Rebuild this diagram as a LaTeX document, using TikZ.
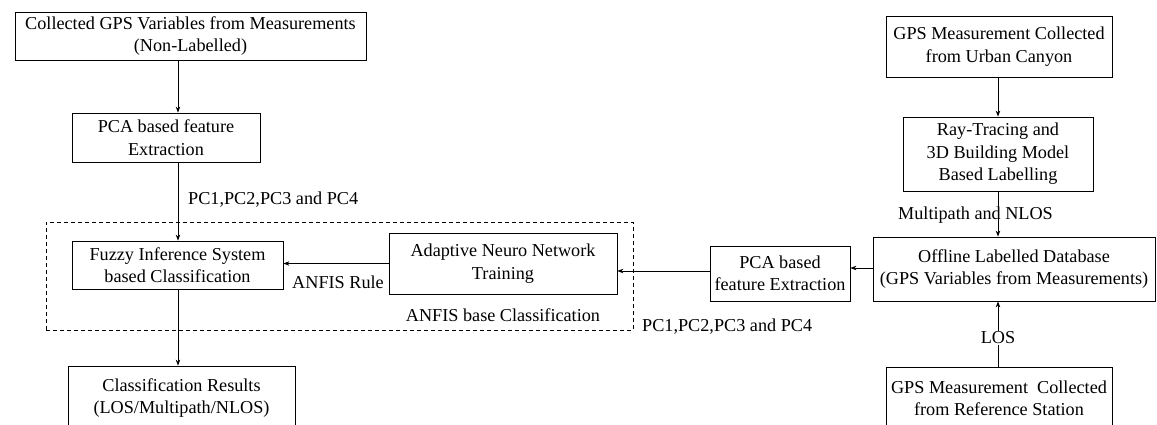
\documentclass[tikz,border=0pt]{standalone}
\usepackage{fontspec}
\setmainfont{Liberation Serif}
\usetikzlibrary{arrows.meta}
\newcommand\fsz{\fontsize{18.2}{22.5}\selectfont}
\begin{document}
\begin{tikzpicture}[x=1pt,y=-1pt,
  box/.style={draw, line width=0.8pt, inner sep=0pt, align=center, font=\fsz},
  lbl/.style={inner sep=0pt, font=\fsz},
  arr/.style={-{Stealth[length=6pt,width=4.5pt]}, line width=0.8pt},
  grpbox/.style={draw, line width=0.8pt, dash pattern=on 4pt off 3pt, inner sep=0pt}]
\useasboundingbox (0,0) rectangle (1157,425);
\coordinate (ax) at (178,0);
\coordinate (bx) at (998,0);
% left column
\node[box, minimum width=351pt, minimum height=48pt] (b1) at (190.5,36) {Collected GPS Variables from Measurements\\(Non-Labelled)};
\node[box, minimum width=188pt, minimum height=49pt] (pca1) at (166,137.5) {PCA based feature\\Extraction};
\draw[arr] (b1.south -| ax) -- (pca1.north -| ax);
\node[grpbox, minimum width=587pt, minimum height=108pt] (grp) at (339.5,276) {};
\node[box, minimum width=211pt, minimum height=48pt] (fis) at (177.5,265) {Fuzzy Inference System\\based Classification};
\draw[arr] (pca1.south -| ax) -- (fis.north -| ax);
\node[lbl, anchor=west] (pcA) at (188,200) {PC1,PC2,PC3 and PC4};
\node[box, minimum width=227pt, minimum height=64pt] (res) at (181.5,398) {Classification Results\\(LOS/Multipath/NLOS)};
\draw[arr] (fis.south -| ax) -- (res.north -| ax);
% ANFIS
\node[box, minimum width=228pt, minimum height=61pt] (anfis) at (503,263.5) {Adaptive Neuro Network\\Training};
\draw[arr] (anfis.west) -- (fis.east |- anfis.west);
\node[lbl] (rule) at (338,282) {ANFIS Rule};
\node[lbl] (grpl) at (503,315) {ANFIS base Classification};
% middle
\node[box, minimum width=140pt, minimum height=55pt] (pca2) at (780,273.5) {PCA based\\feature Extraction};
\coordinate (ry) at (0,271);
\coordinate (ry2) at (0,268);
\draw[arr] (pca2.west |- ry) -- (anfis.east |- ry);
\node[lbl, anchor=west] (pcB) at (642,327) {PC1,PC2,PC3 and PC4};
% right column
\node[box, minimum width=282pt, minimum height=64pt] (off) at (1014,269) {Offline Labelled Database\\(GPS Variables from Measurements)};
\draw[arr] (off.west |- ry2) -- (pca2.east |- ry2);
\node[box, minimum width=226pt, minimum height=61pt] (urb) at (999,46.5) {GPS Measurement Collected\\from Urban Canyon};
\node[box, minimum width=190pt, minimum height=74pt] (ray) at (998,154) {Ray-Tracing and\\3D Building Model\\Based Labelling};
\draw[arr] (urb.south -| bx) -- (ray.north -| bx);
\draw[arr] (ray.south -| bx) -- (off.north -| bx);
\node[lbl] (mpl) at (975.5,215) {Multipath and NLOS};
\node[box, minimum width=226pt, minimum height=63pt] (ref) at (999,398.5) {GPS Measurement\ \ Collected\\from Reference Station};
\draw[arr] (ref.north -| bx) -- (off.south -| bx);
\node[lbl, fill=white, inner sep=1pt] (los) at (998,338) {LOS};
\end{tikzpicture}
\end{document}
